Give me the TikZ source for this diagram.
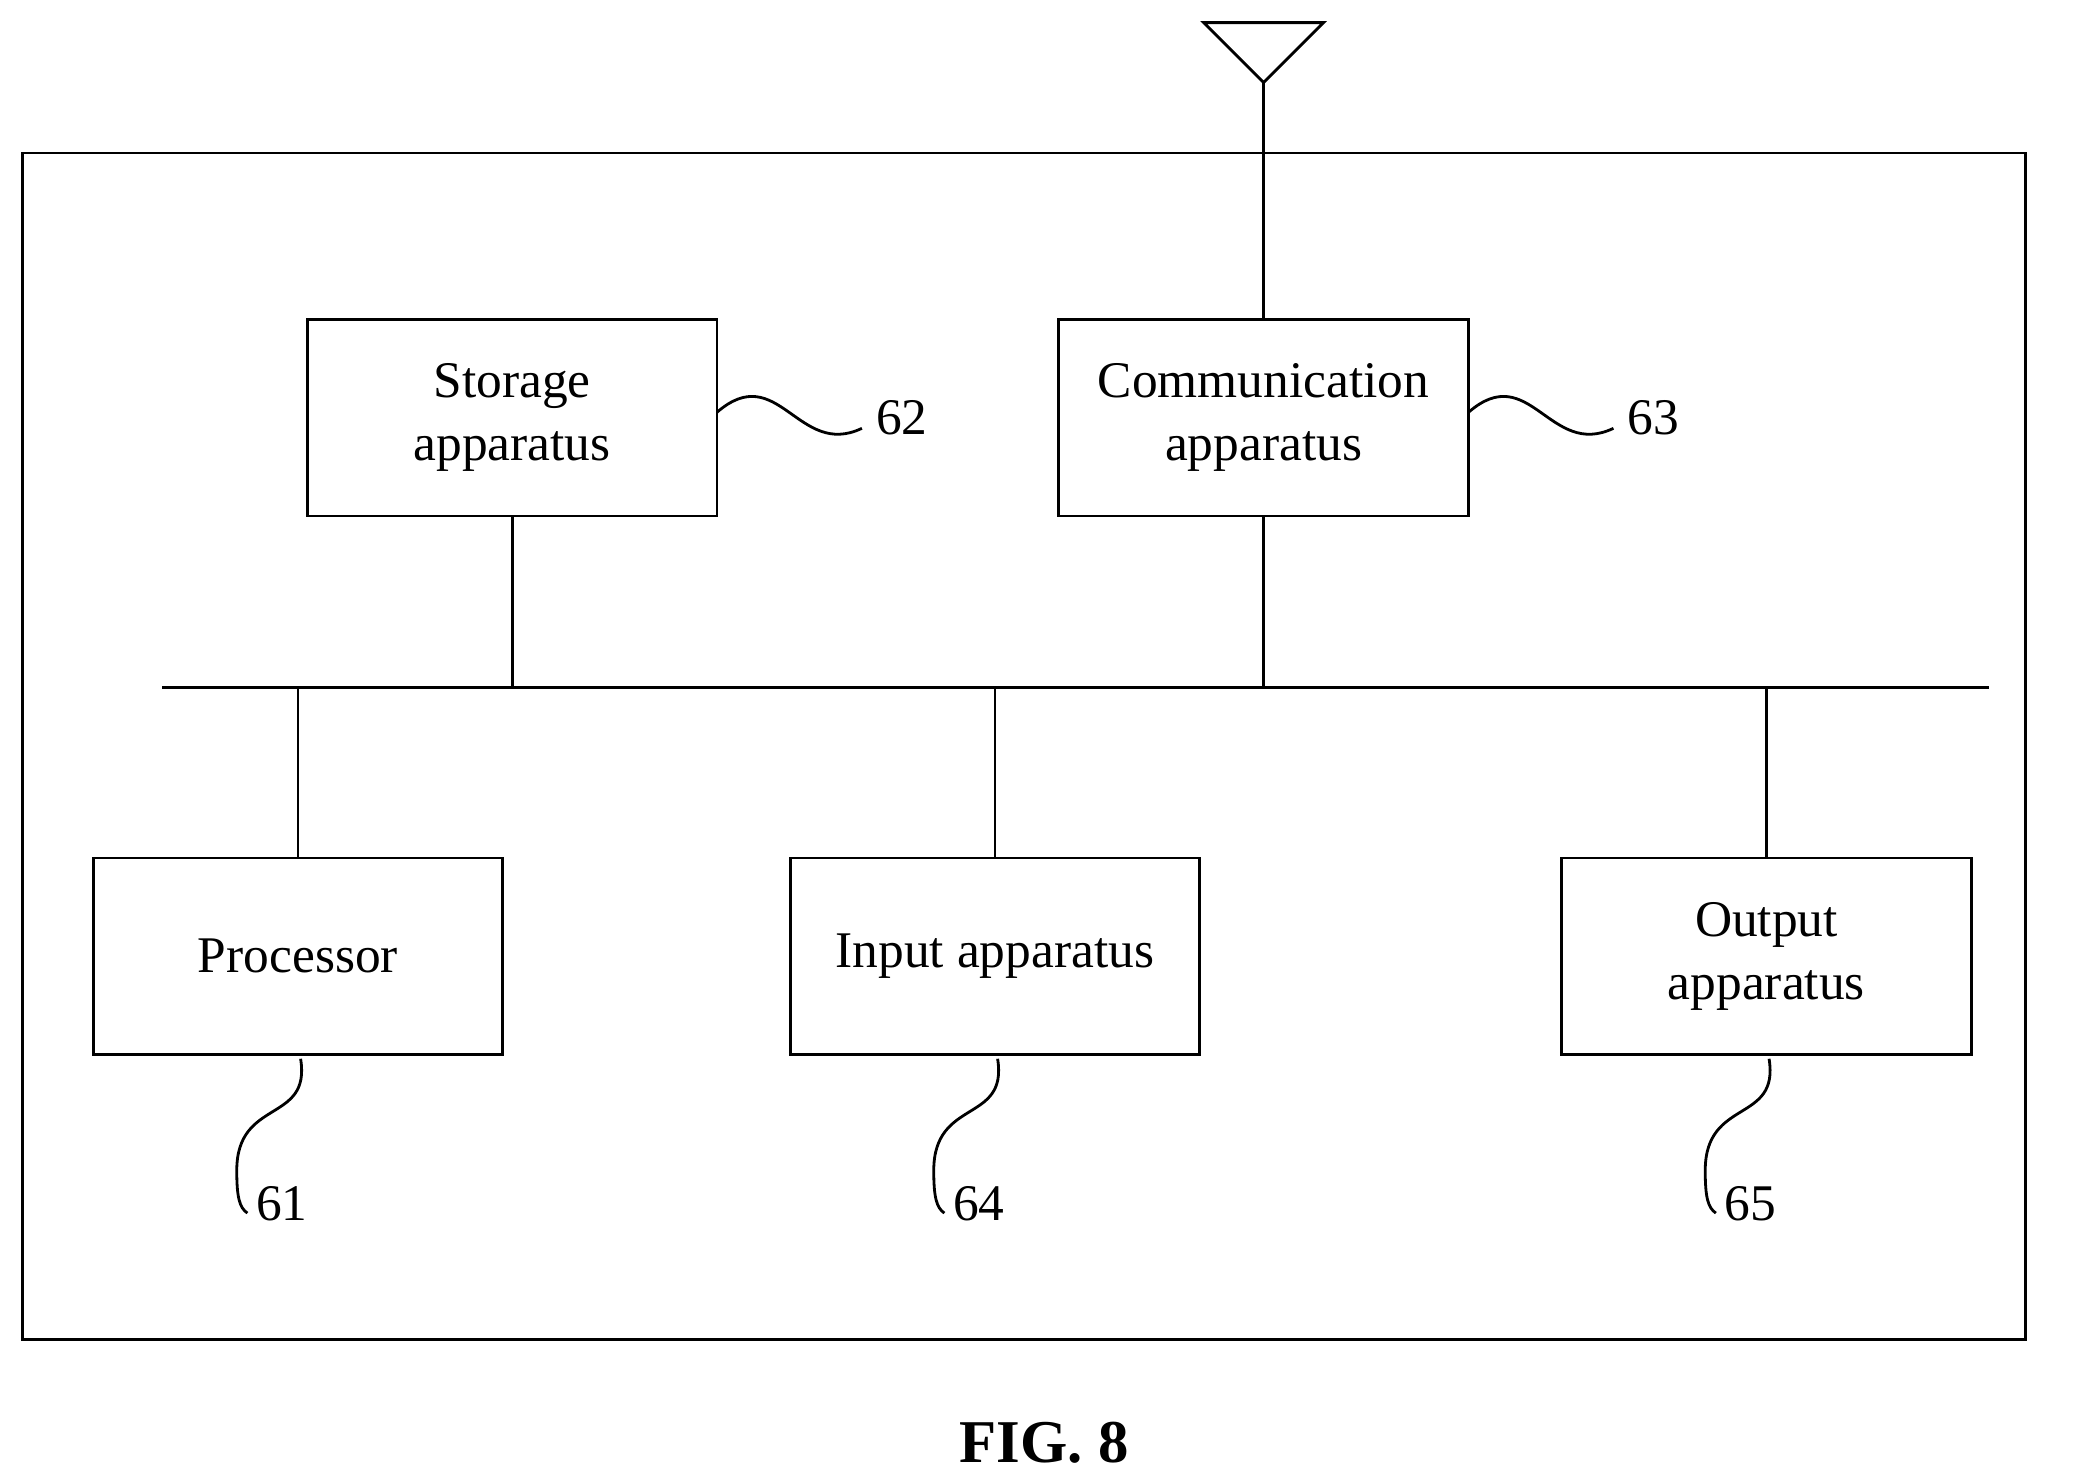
\documentclass[tikz,border=0pt]{standalone}
\usepackage{fontspec}
\setmainfont{Liberation Serif}
\begin{document}
\begin{tikzpicture}[x=0.02cm, y=-0.02cm, line width=1.2pt,
  box/.style={draw, rectangle, minimum width=6.16cm, minimum height=2.96cm, align=center, font=\fontsize{22}{27}\selectfont},
  lbl/.style={font=\fontsize{22}{27}\selectfont, inner sep=0pt}]
\useasboundingbox (0,0) rectangle (1560,1112);
% Cadre
\draw (17,115) rectangle (1523,1007);
% Boites
\node[box] (stor) at (385,314) {Storage\\apparatus};
\node[box] (comm) at (950,314) {Communication\\apparatus};
\node[box] (proc) at (224,719) {Processor};
\node[box] (inp) at (748,719) {Input apparatus};
\node[box] (outp) at (1328,719) {Output\\apparatus};
% Antenne
\coordinate (ant) at (950,62);
\draw (905,17) -- (995,17) -- (ant) -- cycle;
\draw (ant) -- (comm.north);
% Bus
\coordinate (busL) at (122,517);
\coordinate (busR) at (1495,517);
\draw (busL) -- (busR);
\draw (stor.south) -- (stor.south |- busL);
\draw (comm.south) -- (comm.south |- busL);
\draw (proc.north) -- (proc.north |- busL);
\draw (inp.north) -- (inp.north |- busL);
\draw (outp.north) -- (outp.north |- busL);
% Reperes
\node[lbl] (n62) at (678,314) {62};
\node[lbl] (n63) at (1243,314) {63};
\node[lbl] (n61) at (212,905) {61};
\node[lbl] (n64) at (736,905) {64};
\node[lbl] (n65) at (1316,905) {65};
\draw (539,310) .. controls (585,270) and (600,345) .. (648,322);
\draw (1104,310) .. controls (1150,270) and (1165,345) .. (1213,322);
\foreach \x in {226,750,1330}{
  \draw (\x,796) .. controls (\x+8,845) and (\x-48,825) .. (\x-48,880) .. controls (\x-48,900) and (\x-46,908) .. (\x-40,912);
}
\node[font=\bfseries\fontsize{26}{30}\selectfont] (fig) at (785,1085) {FIG. 8};
\end{tikzpicture}
\end{document}
